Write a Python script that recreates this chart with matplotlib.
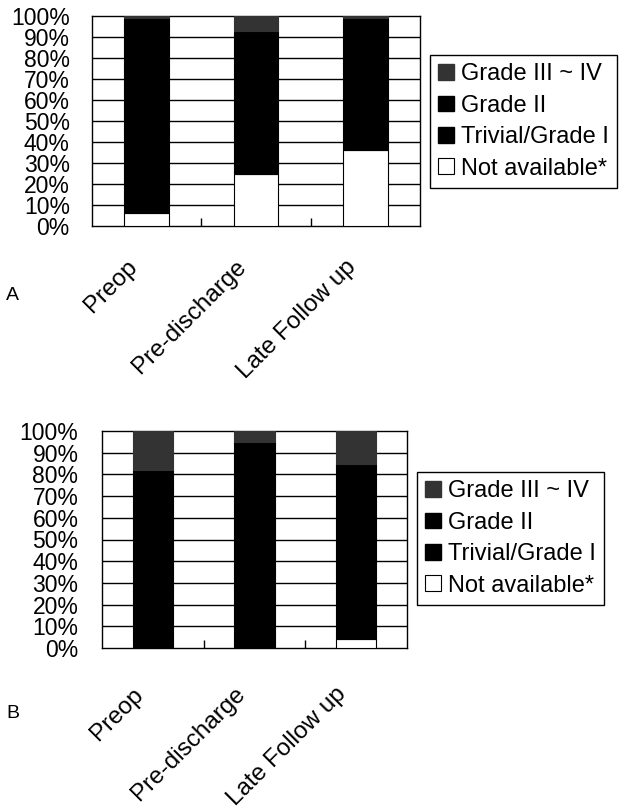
import matplotlib
matplotlib.use("Agg")
import matplotlib.pyplot as plt
import numpy as np
from matplotlib.patches import Patch
from matplotlib.transforms import ScaledTranslation

plt.rcParams['font.family'] = ['Liberation Sans', 'DejaVu Sans']

categories = ["Preop", "Pre-discharge", "Late Follow up"]
series_names = ["Not available*", "Trivial/Grade I", "Grade II", "Grade III ~ IV"]
ytick_labels = ["0%", "10%", "20%", "30%", "40%", "50%", "60%", "70%", "80%", "90%", "100%"]

# Panel A (percent)
a_not_available = [6, 25, 36]
a_trivial = [55, 45, 40]
a_grade2 = [38, 23, 23]
a_grade34 = [1, 7, 1]

# Panel B (percent)
b_not_available = [0, 0, 4]
b_trivial = [50, 55, 45]
b_grade2 = [32, 40, 36]
b_grade34 = [18, 5, 15]

colors = ["white", "black", "black", "#333333"]

W, H = 619, 810
fig = plt.figure(figsize=(W / 100, H / 100), dpi=100)


def panel(rect, data, bar_width, ypad, xpad, xshift, legend_pos, letter_pos, letter):
    ax = fig.add_axes(rect)
    x = np.arange(len(categories)) + 0.5
    bottom = np.zeros(len(categories))
    for vals, c in zip(data, colors):
        ax.bar(x, vals, width=bar_width, bottom=bottom, color=c,
               edgecolor="black" if c == "white" else c, linewidth=0.8, zorder=3)
        bottom += np.array(vals, dtype=float)
    ax.set_xlim(0, 3)
    ax.set_ylim(0, 100)
    for yv in range(10, 100, 10):
        ax.axhline(yv, color="black", linewidth=1.0, zorder=1)
    ax.set_yticks(np.arange(0, 101, 10))
    ax.set_yticklabels(ytick_labels, fontsize=16.5)
    ax.tick_params(axis="y", length=0, pad=ypad)
    ax.set_xticks(x)
    ax.set_xticklabels(categories, rotation=45, ha="right", va="center",
                       rotation_mode="anchor", fontsize=17.5)
    ax.tick_params(axis="x", length=0, pad=xpad)
    off = ScaledTranslation(xshift / 100, 0, fig.dpi_scale_trans)
    for lab in ax.get_xticklabels():
        lab.set_transform(lab.get_transform() + off)
    ax.set_xticks([1, 2], minor=True)
    ax.tick_params(axis="x", which="minor", direction="in", length=6, width=1, color="black")
    for s in ax.spines.values():
        s.set_linewidth(1.0)
        s.set_color("black")
    handles = [Patch(facecolor=colors[3], edgecolor=colors[3]),
               Patch(facecolor=colors[2], edgecolor=colors[2]),
               Patch(facecolor=colors[1], edgecolor=colors[1]),
               Patch(facecolor="white", edgecolor="black", linewidth=0.8)]
    labels = [series_names[3], series_names[2], series_names[1], series_names[0]]
    leg = fig.legend(handles, labels, loc="upper left",
                     bbox_to_anchor=(legend_pos[0] / W, 1 - legend_pos[1] / H),
                     fontsize=17, frameon=True, fancybox=False, edgecolor="black",
                     framealpha=1, handlelength=0.65, handleheight=0.65,
                     handletextpad=0.3, labelspacing=0.4, borderpad=0.35,
                     borderaxespad=0)
    leg.get_frame().set_linewidth(1.0)
    fig.text(letter_pos[0] / W, 1 - letter_pos[1] / H, letter, fontsize=14,
             ha="left", va="center")
    return ax


panel([92 / W, 1 - 226 / H, 328 / W, 210 / H],
      [a_not_available, a_trivial, a_grade2, a_grade34], 0.41, 16, 27, -13,
      (430, 55), (6, 296), "A")
panel([102 / W, 1 - 648 / H, 305 / W, 217 / H],
      [b_not_available, b_trivial, b_grade2, b_grade34], 0.4, 17, 31, -13,
      (417, 472), (6, 713), "B")

fig.savefig("out.png", dpi=100, facecolor="white")
